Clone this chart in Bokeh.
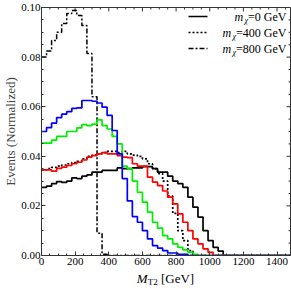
import math
from bokeh.plotting import figure
from bokeh.models import (Label, Arrow, SingleIntervalTicker, NumeralTickFormatter,
                          Range1d, Div)
from bokeh.layouts import column
from bokeh.embed import file_html
from bokeh.resources import INLINE

# ---------------- data (30 GeV bins starting at 0) ----------------
bin_width = 30
n_bins = 50

m0_black = [0.0275, 0.028, 0.029, 0.0298, 0.0295, 0.030, 0.0313, 0.031, 0.032, 0.0325,
            0.0336, 0.0336, 0.0343, 0.0343, 0.0343, 0.0353, 0.035, 0.035, 0.0353, 0.0353,
            0.0358, 0.0358, 0.035, 0.0336, 0.0336, 0.032, 0.030, 0.029, 0.0275, 0.0235,
            0.0195, 0.0155, 0.010, 0.006, 0.0033, 0.0018]
m400_dotted = [0.0345, 0.035, 0.0355, 0.036, 0.0365, 0.037, 0.0375, 0.038, 0.039, 0.040,
               0.0405, 0.041, 0.0415, 0.042, 0.042, 0.0415, 0.042, 0.041, 0.0405, 0.040,
               0.039, 0.037, 0.035, 0.033, 0.030, 0.024, 0.017, 0.010, 0.006, 0.002]
m800_dotdash = [0.080, 0.0825, 0.0867, 0.090, 0.0935, 0.0976, 0.0988, 0.0968, 0.0927, 0.0815,
                0.064, 0.009, 0.0005]
red_series = [0.0345, 0.0345, 0.034, 0.0351, 0.0356, 0.0363, 0.037, 0.0376, 0.0385, 0.0397,
              0.0403, 0.041, 0.0415, 0.041, 0.041, 0.0403, 0.0397, 0.0395, 0.037, 0.036,
              0.036, 0.0316, 0.0296, 0.0282, 0.026, 0.0235, 0.0208, 0.0168, 0.0134, 0.010,
              0.0067, 0.0047, 0.0027, 0.0013]
green_series = [0.0453, 0.0453, 0.0465, 0.048, 0.048, 0.050, 0.050, 0.0515, 0.0528, 0.0524,
                0.053, 0.0547, 0.0524, 0.051, 0.048, 0.045, 0.036, 0.035, 0.030, 0.0255,
                0.0215, 0.0175, 0.0134, 0.011, 0.008, 0.0067, 0.0047, 0.0033, 0.0023, 0.0013,
                0.0005]
blue_series = [0.050, 0.0516, 0.0534, 0.0556, 0.057, 0.058, 0.0593, 0.0595, 0.0625, 0.0625,
               0.0622, 0.0615, 0.0598, 0.0565, 0.0504, 0.041, 0.031, 0.022, 0.0157, 0.0134,
               0.010, 0.0067, 0.004, 0.003, 0.002, 0.001, 0.001, 0.0005, 0.0005]

x_max = 1480
y_max = 0.1
x_major, x_minor = 200, 50
y_major, y_minor = 0.02, 0.005
legend_labels = ["=0 GeV", "=400 GeV", "=800 GeV"]

# ---------------- layout ----------------
FONT = "Liberation Serif"
W_FIG, H_FIG = 291, 271
B_LEFT, B_RIGHT, B_TOP, B_BOTTOM = 41, 1, 7, 16
FW = W_FIG - B_LEFT - B_RIGHT
FH = H_FIG - B_TOP - B_BOTTOM
DOTDASH = "5 2 2 2"
DOTTED = "2 2"
AX = "#333333"

p = figure(width=W_FIG, height=H_FIG, output_backend="svg", toolbar_location=None,
           x_range=Range1d(0, x_max), y_range=Range1d(0, y_max),
           min_border_left=B_LEFT, min_border_right=B_RIGHT,
           min_border_top=B_TOP, min_border_bottom=B_BOTTOM,
           background_fill_color="white", border_fill_color="white")
p.grid.visible = False
p.outline_line_color = AX

p.xaxis.ticker = SingleIntervalTicker(interval=x_major, num_minor_ticks=4)
p.yaxis.ticker = SingleIntervalTicker(interval=y_major, num_minor_ticks=4)
p.yaxis.formatter = NumeralTickFormatter(format="0.00")
for ax in (p.xaxis[0], p.yaxis[0]):
    ax.axis_line_color = AX
    ax.major_tick_line_color = AX
    ax.minor_tick_line_color = AX
    ax.major_tick_in = 4
    ax.major_tick_out = 0
    ax.minor_tick_in = 2
    ax.minor_tick_out = 0
    ax.major_label_text_font = FONT
    ax.major_label_text_font_size = "11px"
    ax.major_label_text_color = "black"
    ax.major_label_standoff = 1
p.xaxis.major_label_standoff = 2
p.yaxis.axis_label = "Events (Normalized)"
p.yaxis.axis_label_text_font = FONT
p.yaxis.axis_label_text_font_style = "normal"
p.yaxis.axis_label_text_font_size = "13px"
p.yaxis.axis_label_standoff = 0

# mirrored ticks on the top and right frame edges
xt_major = list(range(0, x_max + 1, x_major))
xt_minor = [v for v in range(0, x_max + 1, x_minor) if v % x_major]
n_y = int(round(y_max / y_minor))
yt_all = [round(i * y_minor, 4) for i in range(n_y + 1)]
yt_major = [v for i, v in enumerate(yt_all) if i % 4 == 0]
yt_minor = [v for i, v in enumerate(yt_all) if i % 4 != 0]
p.ray(x=xt_major, y=[y_max] * len(xt_major), length=4, length_units="screen",
      angle=-math.pi / 2, line_color=AX, line_width=1)
p.ray(x=xt_minor, y=[y_max] * len(xt_minor), length=2, length_units="screen",
      angle=-math.pi / 2, line_color=AX, line_width=1)
p.ray(x=[x_max] * len(yt_major), y=yt_major, length=4, length_units="screen",
      angle=math.pi, line_color=AX, line_width=1)
p.ray(x=[x_max] * len(yt_minor), y=yt_minor, length=2, length_units="screen",
      angle=math.pi, line_color=AX, line_width=1)

# ---------------- histograms ----------------
edges = [i * bin_width for i in range(n_bins + 1)]

def steps(vals):
    v = list(vals) + [0.0] * (n_bins - len(vals))
    return v + [v[-1]]

p.step(edges, steps(m0_black), mode="after", line_color="black", line_width=1.7)
p.step(edges, steps(m400_dotted), mode="after", line_color="black", line_width=1.7,
       line_dash=DOTTED)
p.step(edges, steps(m800_dotdash), mode="after", line_color="black", line_width=1.5,
       line_dash=DOTDASH)
p.step(edges, steps(red_series), mode="after", line_color="#ff0000", line_width=1.7)
p.step(edges, steps(green_series), mode="after", line_color="#00ee00", line_width=1.7)
p.step(edges, steps(blue_series), mode="after", line_color="#0000ff", line_width=1.7)

# ---------------- legend (manual) ----------------
fs = 12
eq_widths = [3.202 * fs, 4.202 * fs, 4.202 * fs]
chi_w = 5.0
x_text_right = FW - 4
row_offsets = [9, 25, 41]
dashes = ["solid", DOTTED, DOTDASH]
for i, lab in enumerate(legend_labels):
    yc = FH - row_offsets[i]
    p.add_layout(Arrow(x_start=x_text_right - 98, y_start=yc, x_end=x_text_right - 79, y_end=yc,
                       start_units="screen", end_units="screen", end=None, start=None,
                       line_color="black", line_width=1.7, line_dash=dashes[i]))
    p.add_layout(Label(x=x_text_right, y=yc, x_units="screen", y_units="screen", text=lab,
                       text_font=FONT, text_font_size=f"{fs}px", text_align="right",
                       text_baseline="middle", text_color="black"))
    xc = x_text_right - eq_widths[i]
    p.add_layout(Label(x=xc, y=yc - 4, x_units="screen", y_units="screen", text="χ",
                       text_font=FONT, text_font_size="8px", text_font_style="italic",
                       text_align="right", text_baseline="middle", text_color="black"))
    p.add_layout(Label(x=xc - chi_w, y=yc, x_units="screen", y_units="screen", text="m",
                       text_font=FONT, text_font_size=f"{fs}px", text_font_style="italic",
                       text_align="right", text_baseline="middle", text_color="black"))

# ---------------- x-axis title (HTML below the figure, with subscript) ----------------
title_html = (
    f'<div style="width:{FW}px; margin-left:{B_LEFT}px; text-align:center; '
    f'font-family:\'{FONT}\'; font-size:13px; line-height:14px; color:black; '
    f'padding-top:1px; white-space:nowrap;">'
    '<i>M</i><span style="font-size:9px; position:relative; top:2px;">T2</span> [GeV]</div>'
)
xtitle = Div(text=title_html, width=W_FIG, height=289 - H_FIG, margin=(0, 0, 0, 0))

layout = column(p, xtitle, spacing=0)
open("out.html", "w").write(file_html(layout, INLINE))
